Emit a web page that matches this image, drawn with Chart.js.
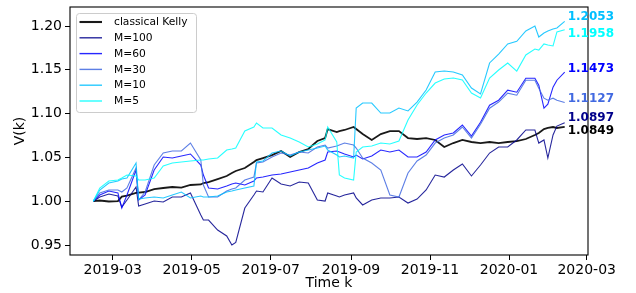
<!DOCTYPE html>
<html>
<head>
<meta charset="utf-8">
<script src="https://cdn.jsdelivr.net/npm/chart.js@4.4.0/dist/chart.umd.min.js"></script>
<style>
  html, body { margin: 0; padding: 0; background: #fff; }
</style>
</head>
<body>
<canvas id="chart" width="636" height="293"></canvas>
<script>
// trading dates sampled from the plot (roughly weekly, extra points at the jumps)
const dates = [
  '2019-02-14','2019-02-19','2019-02-26','2019-03-05','2019-03-08','2019-03-12','2019-03-19','2019-03-21','2019-03-26','2019-04-02','2019-04-09',
  '2019-04-16','2019-04-23','2019-04-30','2019-05-08','2019-05-10','2019-05-14','2019-05-21','2019-05-28','2019-06-01','2019-06-04','2019-06-11',
  '2019-06-18','2019-06-20','2019-06-25','2019-07-02','2019-07-09','2019-07-16','2019-07-23','2019-07-30','2019-08-06','2019-08-12',
  '2019-08-14','2019-08-21','2019-08-23','2019-08-27','2019-09-03','2019-09-05','2019-09-10','2019-09-17','2019-09-24','2019-10-01',
  '2019-10-08','2019-10-15','2019-10-22','2019-10-29','2019-11-05','2019-11-12','2019-11-19','2019-11-26','2019-12-03','2019-12-10',
  '2019-12-17','2019-12-24','2019-12-31','2020-01-07','2020-01-14','2020-01-21','2020-01-24','2020-01-28','2020-01-31','2020-02-04',
  '2020-02-07','2020-02-13'
];

const kelly = [
  1.0000, 1.0008, 0.9997, 1.0002, 1.0053, 1.0065, 1.0094, 1.0099, 1.0105, 1.0139, 1.0151,
  1.0162, 1.0156, 1.0185, 1.0191, 1.0208, 1.0219, 1.0253, 1.0288, 1.0322, 1.0345, 1.0379,
  1.0447, 1.0470, 1.0493, 1.0527, 1.0573, 1.0505, 1.0562, 1.0596, 1.0687, 1.0721,
  1.0824, 1.0790, 1.0801, 1.0813, 1.0847, 1.0824, 1.0767, 1.0699, 1.0767, 1.0801,
  1.0801, 1.0721, 1.0710, 1.0721, 1.0699, 1.0619, 1.0664, 1.0699, 1.0676, 1.0664,
  1.0676, 1.0664, 1.0676, 1.0687, 1.0710, 1.0756, 1.0779, 1.0824, 1.0836, 1.0847,
  1.0836, 1.0849
];
const m100 = [
  1.0000, 1.0048, 1.0082, 1.0059, 0.9932, 1.0014, 1.0162, 0.9945, 0.9968, 1.0002, 0.9991,
  1.0048, 1.0048, 1.0094, 0.9842, 0.9785, 0.9785, 0.9671, 0.9603, 0.9500, 0.9530, 0.9922,
  1.0071, 1.0116, 1.0105, 1.0265, 1.0196, 1.0174, 1.0219, 1.0208, 1.0014, 1.0002,
  1.0094, 1.0059, 1.0048, 1.0071, 1.0094, 1.0037, 0.9957, 1.0014, 1.0037, 1.0037,
  1.0048, 0.9979, 1.0025, 1.0128, 1.0299, 1.0276, 1.0356, 1.0425, 1.0288, 1.0413,
  1.0550, 1.0619, 1.0619, 1.0699, 1.0813, 1.0813, 1.0664, 1.0699, 1.0493, 1.0756,
  1.0858, 1.0897
];
const m60 = [
  1.0000, 1.0071, 1.0116, 1.0094, 0.9922, 1.0071, 1.0356, 1.0014, 1.0071, 1.0356, 1.0505,
  1.0493, 1.0516, 1.0539, 1.0413, 1.0299, 1.0151, 1.0139, 1.0174, 1.0196, 1.0208, 1.0185,
  1.0230, 1.0265, 1.0276, 1.0299, 1.0311, 1.0333, 1.0356, 1.0379, 1.0436, 1.0470,
  1.0562, 1.0573, 1.0562, 1.0539, 1.0505, 1.0527, 1.0482, 1.0516, 1.0584, 1.0562,
  1.0584, 1.0505, 1.0505, 1.0562, 1.0699, 1.0756, 1.0779, 1.0870, 1.0744, 1.0902,
  1.1096, 1.1153, 1.1267, 1.1244, 1.1404, 1.1404, 1.1324, 1.1062, 1.1107, 1.1302,
  1.1381, 1.1473
];
const m30 = [
  1.0000, 1.0094, 1.0128, 1.0128, 1.0105, 1.0151, 1.0379, 1.0014, 1.0105, 1.0413, 1.0550,
  1.0573, 1.0573, 1.0664, 1.0470, 1.0185, 1.0048, 1.0048, 1.0116, 1.0139, 1.0151, 1.0242,
  1.0276, 1.0436, 1.0447, 1.0505, 1.0550, 1.0527, 1.0562, 1.0550, 1.0619, 1.0641,
  1.0607, 1.0630, 1.0641, 1.0664, 1.0641, 1.0607, 1.0493, 1.0436, 1.0356, 1.0071,
  1.0048, 1.0322, 1.0459, 1.0527, 1.0664, 1.0721, 1.0756, 1.0847, 1.0721, 1.0879,
  1.1062, 1.1132, 1.1233, 1.1210, 1.1381, 1.1381, 1.1290, 1.1176, 1.1153, 1.1176,
  1.1153, 1.1127
];
const m10 = [
  1.0000, 1.0128, 1.0208, 1.0231, 1.0253, 1.0265, 1.0436, 1.0025, 1.0037, 1.0048, 1.0037,
  1.0071, 1.0105, 1.0037, 1.0059, 1.0048, 1.0048, 1.0059, 1.0105, 1.0116, 1.0128, 1.0151,
  1.0174, 1.0447, 1.0459, 1.0550, 1.0573, 1.0516, 1.0562, 1.0584, 1.0607, 1.0630,
  1.0584, 1.0527, 1.0505, 1.0516, 1.0493, 1.1064, 1.1121, 1.1121, 1.1007, 1.1007,
  1.1064, 1.1030, 1.1132, 1.1269, 1.1475, 1.1486, 1.1475, 1.1441, 1.1292, 1.1224,
  1.1578, 1.1680, 1.1795, 1.1826, 1.1943, 1.2000, 1.1874, 1.1920, 1.1943, 1.1966,
  1.1977, 1.2053
];
const m5 = [
  1.0000, 1.0151, 1.0231, 1.0242, 1.0265, 1.0299, 1.0288, 1.0242, 1.0242, 1.0265, 1.0402,
  1.0436, 1.0447, 1.0459, 1.0470, 1.0470, 1.0482, 1.0493, 1.0584, 1.0596, 1.0607, 1.0801,
  1.0847, 1.0893, 1.0836, 1.0836, 1.0756, 1.0721, 1.0676, 1.0619, 1.0653, 1.0699,
  1.0847, 1.0676, 1.0299, 1.0265, 1.0242, 1.0562, 1.0619, 1.0630, 1.0664, 1.0653,
  1.0687, 1.0927, 1.1098, 1.1235, 1.1349, 1.1395, 1.1406, 1.1384, 1.1235, 1.1178,
  1.1406, 1.1498, 1.1578, 1.1486, 1.1669, 1.1737, 1.1726, 1.1795, 1.1784, 1.1772,
  1.1932, 1.1958
];

const seriesNames = ['classical Kelly', 'M=100', 'M=60', 'M=30', 'M=10', 'M=5'];
const seriesValues = [kelly, m100, m60, m30, m10, m5];
const seriesColors = ['#000000', '#00008b', '#0000ff', '#4169e1', '#00bfff', '#00ffff'];

const xTickLabels = ['2019-03', '2019-05', '2019-07', '2019-09', '2019-11', '2020-01', '2020-03'];
const yTickLabels = ['0.95', '1.00', '1.05', '1.10', '1.15', '1.20'];

const FONT = '"DejaVu Sans", sans-serif';
const toDay = s => Date.parse(s + 'T00:00:00Z') / 86400000;

function withAlpha(hex, a) {
  const n = parseInt(hex.slice(1), 16);
  return `rgba(${(n >> 16) & 255},${(n >> 8) & 255},${n & 255},${a})`;
}

const datasets = seriesNames.map((name, i) => ({
  label: name,
  data: dates.map((d, j) => ({ x: toDay(d), y: seriesValues[i][j] })),
  borderColor: withAlpha(seriesColors[i], i === 0 ? 0.9 : 0.85),
  textColor: seriesColors[i],
  borderWidth: i === 0 ? 1.8 : 1.1,
  pointRadius: 0,
  tension: 0,
  fill: false,
  order: seriesNames.length - 1 - i
}));

// small vertical nudges (px) for the end value labels so they don't collide
const endLabelNudge = [4, -5, -3, -3.5, -4, 4.5];

const decorations = {
  id: 'decorations',
  afterDatasetsDraw(chart) {
    const { ctx, chartArea } = chart;
    ctx.save();

    // frame (all four spines)
    ctx.strokeStyle = '#000';
    ctx.lineWidth = 1.1;
    ctx.strokeRect(chartArea.left, chartArea.top, chartArea.right - chartArea.left, chartArea.bottom - chartArea.top);

    // final values at line ends
    ctx.font = 'bold 12px ' + FONT;
    ctx.textBaseline = 'middle';
    ctx.textAlign = 'left';
    chart.data.datasets.forEach((ds, i) => {
      const pts = chart.getDatasetMeta(i).data;
      const last = pts[pts.length - 1];
      const v = ds.data[ds.data.length - 1].y;
      ctx.fillStyle = ds.textColor;
      ctx.fillText(v.toFixed(4), last.x + 3, last.y + endLabelNudge[i]);
    });

    // legend box, upper left
    const x0 = chartArea.left + 6, y0 = chartArea.top + 6, w = 120, h = 99;
    ctx.beginPath();
    ctx.roundRect(x0 + 0.5, y0 + 0.5, w, h, 3);
    ctx.fillStyle = 'rgba(255,255,255,0.8)';
    ctx.fill();
    ctx.strokeStyle = '#cccccc';
    ctx.lineWidth = 1;
    ctx.stroke();
    ctx.font = '10.7px ' + FONT;
    chart.data.datasets.forEach((ds, i) => {
      const y = y0 + 9 + i * 15.8;
      ctx.strokeStyle = ds.borderColor;
      ctx.lineWidth = ds.borderWidth + 0.3;
      ctx.beginPath();
      ctx.moveTo(x0 + 3.5, y);
      ctx.lineTo(x0 + 26, y);
      ctx.stroke();
      ctx.fillStyle = '#000';
      ctx.fillText(ds.label, x0 + 38, y + 0.5);
    });
    ctx.restore();
  }
};

new Chart(document.getElementById('chart'), {
  type: 'line',
  data: { datasets },
  options: {
    responsive: false,
    animation: false,
    devicePixelRatio: 1,
    layout: { padding: { left: 0, right: 48, top: 7, bottom: 0 } },
    plugins: { legend: { display: false }, tooltip: { enabled: false } },
    scales: {
      x: {
        type: 'linear',
        min: toDay('2019-01-27'),
        max: toDay('2020-03-02'),
        border: { display: false },
        grid: { drawOnChartArea: false, drawTicks: true, tickLength: 5, color: '#000' },
        ticks: {
          autoSkip: false, maxRotation: 0, padding: 2,
          color: '#000', font: { family: FONT, size: 14 },
          callback: (v, i) => xTickLabels[i]
        },
        afterBuildTicks: s => { s.ticks = xTickLabels.map(l => ({ value: toDay(l + '-01') })); },
        afterFit: s => { s.height = 38; s.paddingLeft = 0; s.paddingRight = 0; },
        title: { display: true, text: 'Time k', color: '#000', font: { family: FONT, size: 14 }, padding: { top: 0, bottom: 1 } }
      },
      y: {
        min: 0.9386,
        max: 1.2217,
        border: { display: false },
        grid: { drawOnChartArea: false, drawTicks: true, tickLength: 5, color: '#000' },
        ticks: {
          padding: 3, color: '#000', font: { family: FONT, size: 14 },
          callback: (v, i) => yTickLabels[i]
        },
        afterBuildTicks: s => { s.ticks = yTickLabels.map(l => ({ value: Number(l) })); },
        afterFit: s => { s.width = 70; s.paddingTop = 0; s.paddingBottom = 0; },
        title: { display: true, text: 'V(k)', color: '#000', font: { family: FONT, size: 14 }, padding: { top: 12, bottom: 0 } }
      }
    }
  },
  plugins: [decorations]
});
</script>
</body>
</html>
